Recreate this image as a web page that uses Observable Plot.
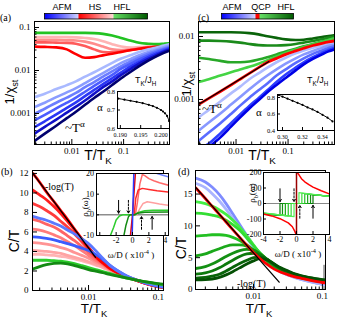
<!DOCTYPE html>
<html><head><meta charset="utf-8">
<script src="https://cdn.jsdelivr.net/npm/d3@7"></script>
<script src="https://cdn.jsdelivr.net/npm/@observablehq/plot@0.6"></script>
<style>
body{margin:0;background:#fff}
#fig{position:relative;width:337px;height:319px;overflow:hidden;background:#fff}
#fig svg{position:absolute;left:0;top:0;max-width:none}
</style></head><body><div id="fig"></div>
<script>
// ================= DATA =================
// ---- panel (a): 1/chi_st vs T/T_K ----
const aT = [0.0019,0.003,0.005,0.008,0.012,0.018,0.027,0.04,0.06,0.09,0.14,0.2,0.3,0.45,0.6,0.77];
const aAFM1 = [0.0024,0.00288,0.0037,0.00457,0.0056,0.0072,0.0091,0.0117,0.0151,0.019,0.0229,0.0269,0.031,0.0347,0.038,0.0407];
const aAFM2 = [0.00141,0.00178,0.0024,0.0031,0.0039,0.0051,0.0067,0.0087,0.0115,0.0151,0.0188,0.0227,0.027,0.0313,0.0348,0.0377];
const aAFM3 = [0.00098,0.00129,0.00178,0.00234,0.003,0.0041,0.0054,0.0072,0.0095,0.0127,0.0164,0.0202,0.0246,0.0291,0.0327,0.0357];
const aAFM4 = [0.00069,0.00093,0.00132,0.00178,0.00234,0.0032,0.0044,0.0059,0.0079,0.011,0.0145,0.018,0.0224,0.0272,0.031,0.0339];
const aAFM5 = [0.00048,0.00066,0.00095,0.00135,0.00182,0.00254,0.00355,0.0048,0.0066,0.0091,0.0126,0.0158,0.0204,0.0251,0.0288,0.0324];
const aAFM6 = [0.00034,0.00049,0.00072,0.00105,0.00145,0.002,0.0029,0.0041,0.0056,0.0079,0.0111,0.0145,0.0186,0.0234,0.0275,0.0305];
const aAFM7 = [0.00023,0.00034,0.00052,0.00078,0.0011,0.0016,0.0023,0.0032,0.0046,0.0066,0.0095,0.0126,0.017,0.0219,0.0257,0.0288];
const aHS1 = [0.036,0.0355,0.0345,0.031,0.024,0.0198,0.0205,0.0225,0.0245,0.027,0.03,0.032,0.034,0.036,0.038,0.04];
const aHS2 = [0.045,0.045,0.0445,0.044,0.042,0.037,0.031,0.027,0.0265,0.028,0.03,0.032,0.034,0.036,0.038,0.04];
const aHS3 = [0.052,0.052,0.052,0.051,0.05,0.047,0.042,0.036,0.031,0.03,0.031,0.033,0.035,0.037,0.039,0.04];
const aHS4 = [0.06,0.06,0.06,0.06,0.059,0.057,0.054,0.048,0.041,0.036,0.034,0.035,0.036,0.038,0.039,0.041];
const aHFL = [0.075,0.075,0.075,0.075,0.075,0.075,0.074,0.071,0.065,0.057,0.049,0.044,0.042,0.041,0.042,0.043];
const aInsetJ = [0.1895,0.191,0.1925,0.194,0.1955,0.197,0.198,0.199,0.2,0.2005,0.201,0.2015,0.202];
const aInsetAlpha = [0.762,0.756,0.75,0.744,0.737,0.728,0.721,0.712,0.7,0.692,0.682,0.668,0.64];

// ---- panel (c): 1/chi_st vs T/T_K ----
const cT = [0.0019,0.003,0.005,0.008,0.012,0.018,0.027,0.04,0.06,0.09,0.14,0.2,0.3,0.45,0.6,0.77];
const cHFL1 = [0.0117,0.0117,0.0117,0.0117,0.0116,0.0113,0.0108,0.0101,0.0095,0.009,0.0088,0.0089,0.0093,0.0098,0.0102,0.0105];
const cHFL2 = [0.0086,0.0086,0.0085,0.0083,0.008,0.0076,0.0073,0.0072,0.0072,0.0073,0.0076,0.008,0.0085,0.0091,0.0096,0.01];
const cHFL3 = [0.0046,0.0044,0.0041,0.0039,0.0039,0.004,0.0043,0.0047,0.0052,0.0058,0.0064,0.007,0.0076,0.0083,0.0089,0.0094];
const cHFL4 = [0.0019,0.0021,0.0024,0.0027,0.003,0.0033,0.0037,0.0042,0.0048,0.0055,0.0062,0.0068,0.0075,0.0082,0.0088,0.0093];
const cQCP = [0.00083,0.00104,0.00134,0.0017,0.0021,0.0026,0.0032,0.0039,0.0045,0.0052,0.0059,0.0065,0.0072,0.0078,0.0082,0.0085];
const cAFM1 = [0.00052,0.00068,0.00093,0.00125,0.0016,0.0021,0.0026,0.0032,0.0039,0.0046,0.0054,0.006,0.0066,0.0072,0.0076,0.0079];
const cAFM2 = [0.00032,0.00043,0.0006,0.00083,0.0011,0.00145,0.0019,0.0024,0.003,0.0037,0.0045,0.0052,0.0059,0.0066,0.0071,0.0074];
const cAFM3 = [0.00022,0.0003,0.00042,0.00059,0.0008,0.00107,0.0014,0.0018,0.0024,0.003,0.0038,0.0045,0.0053,0.006,0.0066,0.007];
const cAFM4 = [0.00016,0.0002,0.00029,0.00042,0.00058,0.00079,0.00105,0.0014,0.0019,0.0025,0.0032,0.0039,0.0047,0.0055,0.0061,0.0066];
const cAFM5 = [0.0001,0.00017,0.00025,0.00037,0.00052,0.00072,0.00097,0.0013,0.0017,0.0022,0.0029,0.0036,0.0044,0.0052,0.0058,0.0062];
const cFitT = [0.0019,0.043];
const cFitY = [0.00083,0.004];
const cInsetJ = [0.296,0.3,0.305,0.31,0.315,0.32,0.325,0.33,0.335,0.34,0.345,0.35];
const cInsetAlpha = [0.83,0.81,0.785,0.76,0.735,0.71,0.68,0.655,0.625,0.59,0.555,0.51];

// ---- panel (b): C/T vs T/T_K ----
const bT = [0.0016,0.002,0.0025,0.0032,0.004,0.005,0.0063,0.008,0.01,0.0126,0.016,0.02,0.025,0.032,0.04,0.05,0.063,0.08,0.1,0.118];
const bHS1 = [12,11.1,10.1,9.1,8.2,7.3,6.3,5.3,4.4,3.5,2.85,2.3,1.9,1.55,1.25,1.0,0.75,0.55,0.38,0.3];
const bHS2 = [10.3,9.8,9.3,8.6,7.9,7.1,6.2,5.3,4.4,3.5,2.85,2.3,1.9,1.55,1.25,1.0,0.76,0.56,0.39,0.31];
const bHS3 = [8.9,8.6,8.2,7.7,7.1,6.5,5.8,5.0,4.2,3.45,2.8,2.3,1.9,1.55,1.26,1.01,0.77,0.57,0.4,0.32];
const bHS4 = [7.3,7.1,6.8,6.5,6.1,5.6,5.1,4.5,3.9,3.3,2.75,2.25,1.88,1.55,1.27,1.02,0.79,0.59,0.42,0.34];
const bHS5 = [6.3,6.2,6.0,5.7,5.4,5.0,4.6,4.1,3.6,3.1,2.65,2.2,1.85,1.54,1.27,1.03,0.8,0.6,0.44,0.36];
const bHS6 = [4.9,4.85,4.75,4.6,4.4,4.2,3.9,3.6,3.3,2.9,2.55,2.15,1.82,1.53,1.27,1.04,0.82,0.62,0.46,0.38];
const bHS7 = [4.1,4.05,4.0,3.9,3.8,3.6,3.4,3.2,2.95,2.7,2.4,2.1,1.8,1.52,1.27,1.05,0.84,0.64,0.48,0.4];
const bHS8 = [3.7,3.7,3.65,3.6,3.5,3.4,3.25,3.05,2.85,2.6,2.35,2.05,1.78,1.51,1.27,1.06,0.85,0.66,0.5,0.42];
const bAFM1 = [7.6,7.4,7.2,6.9,6.6,6.2,5.8,5.3,4.8,4.1,3.3,2.6,2.1,1.65,1.3,1.05,0.8,0.6,0.42,0.35];
const bAFM2 = [5.5,5.45,5.35,5.2,5.0,4.8,4.6,4.35,4.1,3.7,3.2,2.6,2.1,1.65,1.3,1.05,0.8,0.6,0.42,0.35];
const bHFL1 = [3.1,3.1,3.1,3.05,3.0,2.9,2.75,2.55,2.35,2.15,1.95,1.75,1.55,1.35,1.2,1.05,0.9,0.78,0.66,0.6];
const bHFL2 = [2.2,2.45,2.65,2.78,2.8,2.72,2.55,2.35,2.15,1.98,1.82,1.65,1.5,1.35,1.2,1.05,0.92,0.8,0.7,0.65];
const bLogT = [0.0016,0.0126];
const bLogY = [12,3.4];
// inset (b): rho_b(omega)
const bIw_blue = [-0.04,0.16];           const bIr_blue = [-10,20];
const bIw_blue2 = [3.0,3.6,4.4];         const bIr_blue2 = [20,19.3,18.4];
const bIw_red1 = [-0.25,0,0.35];         const bIr_red1 = [-10,0,20];
const bIw_red2 = [0.2,0.4,0.7,1.2,2,3,4.4];          const bIr_red2 = [0,8,12,12.8,12.3,11.6,11];
const bIw_pink1 = [0.35,0.6,0.9,1.2,1.5,2.0,2.6,3.3,4.4]; const bIr_pink1 = [0,6,15,19.5,19,17.5,16.5,15.5,14.3];
const bIw_pink2 = [0.5,0.9,1.3,1.8,2.5,3.3,4.4];      const bIr_pink2 = [0,3,5.5,6.3,5.8,5.2,4.6];
const bIw_g1 = [-2.7,-2.3,-2.0,-1.6,-1.2,0.3,0.8,1.5,2.5,4.4]; const bIr_g1 = [-10,-6,-2.5,-0.6,0,0,1.3,2.0,2.2,2.2];
const bIw_g2 = [-1.05,-0.8,-0.5,-0.3,0.2,0.6,1.5,4.4]; const bIr_g2 = [-10,-5,-1,0,0,0.8,1.3,1.4];
const bArrowW = [-1.7,-0.5,1.1,2.4];
const bArrowFrom = [7,7,-7,-7];
const bArrowTo = [0.8,0.8,-0.8,-0.8];
const bArrowDashed = [false,true,true,false];

// ---- panel (d): C/T vs T/T_K ----
const dT = [0.00144,0.002,0.0025,0.0032,0.004,0.005,0.0063,0.008,0.01,0.0126,0.016,0.02,0.025,0.032,0.04,0.05,0.063,0.08,0.1,0.111];
const dAFM1 = [17.5,16.9,16.1,14.9,13.5,11.9,10.2,8.5,6.9,5.5,4.3,3.4,2.8,2.3,1.9,1.6,1.3,1.05,0.82,0.76];
const dAFM2 = [16.7,16.0,15.1,13.9,12.6,11.2,9.7,8.1,6.6,5.3,4.2,3.35,2.75,2.25,1.87,1.57,1.28,1.03,0.8,0.74];
const dQCP = [16.0,14.3,13.1,11.8,10.6,9.4,8.2,6.95,5.8,4.8,3.9,3.2,2.7,2.3,2.0,1.75,1.5,1.28,1.1,1.05];
const dHFL1 = [13.8,13.5,13.1,12.5,11.8,10.9,9.8,8.4,7.0,5.6,4.5,3.6,3.0,2.5,2.1,1.8,1.55,1.35,1.2,1.15];
const dHFL2 = [12.0,11.9,11.7,11.4,10.9,10.2,9.3,8.1,6.9,5.7,4.6,3.7,3.1,2.6,2.2,1.9,1.65,1.45,1.3,1.25];
const dHFL3 = [8.4,8.5,8.6,8.6,8.5,8.2,7.7,7.0,6.2,5.3,4.4,3.6,3.0,2.55,2.2,1.9,1.65,1.45,1.3,1.25];
const dHFL4 = [5.3,5.6,6.0,6.4,6.8,7.0,7.0,6.8,6.2,5.4,4.5,3.7,3.1,2.6,2.25,1.95,1.7,1.5,1.35,1.3];
const dHFL5 = [3.3,3.6,4.0,4.6,5.2,5.7,6.1,6.3,6.2,5.6,4.7,3.8,3.2,2.7,2.3,2.0,1.75,1.55,1.4,1.35];
const dHFL6 = [2.4,2.6,2.9,3.4,4.0,4.6,5.2,5.6,5.7,5.4,4.7,3.9,3.25,2.75,2.35,2.05,1.8,1.6,1.45,1.4];
const dHFL7 = [1.8,1.9,2.1,2.4,2.9,3.5,4.1,4.6,5.0,5.1,4.7,4.0,3.3,2.8,2.4,2.1,1.85,1.65,1.5,1.45];
const dHFL8 = [1.5,1.55,1.65,1.9,2.3,2.8,3.4,4.0,4.5,4.85,4.6,4.0,3.4,2.9,2.45,2.15,1.9,1.7,1.55,1.5];
const dLogT = [0.00146,0.0236];
const dLogY = [16,1.15];
const dMarkT = [0.106];
const dMarkY = [0,3.8];
// inset (d)
const dIw_redU = [0.05,0.15,0.3,0.6,1,1.5,2,3,4];       const dIr_redU = [200,195,185,160,140,122,106,82,62];
const dIw_redL = [-4,-3,-2,-1,-0.5,-0.2,-0.05];         const dIr_redL = [-68,-80,-98,-125,-150,-180,-200];
const dIw_redV = [0,0];                                  const dIr_redV = [-200,200];
const dIw_g1 = [-4,-0.3,-0.3,0.3,0.3,4];   const dIr_g1 = [-60,-85,0,0,70,45];
const dIw_g2 = [-4,-0.65,-0.65,0.65,0.65,4]; const dIr_g2 = [-62,-82,0,0,66,46];
const dIw_g3 = [-4,-1.0,-1.0,1.0,1.0,4];   const dIr_g3 = [-64,-80,0,0,63,46];
const dIw_g4 = [-4,-1.35,-1.35,1.35,1.35,4]; const dIr_g4 = [-66,-78,0,0,60,47];
const dIw_g5 = [-4,-1.7,-1.7,1.7,1.7,4];   const dIr_g5 = [-68,-76,0,0,58,47];
const dIw_g6 = [-4,-2.0,-2.0,2.0,2.0,4];   const dIr_g6 = [-70,-75,0,0,56,48];
const dArrowW = [-2,-0.3,0.4,2.0];
const dArrowFrom = [95,95,-95,-95];
const dArrowTo = [12,12,-12,-12];
const dArrowDashed = [false,true,true,false];

// ---- tick values ----
const tLogX_major = [0.01,0.1];
const tLogX_minorA = [0.002,0.003,0.004,0.005,0.006,0.007,0.008,0.009,0.02,0.03,0.04,0.05,0.06,0.07,0.08,0.09,0.2,0.3,0.4,0.5,0.6,0.7];
const tLogX_minorB = [0.002,0.003,0.004,0.005,0.006,0.007,0.008,0.009,0.02,0.03,0.04,0.05,0.06,0.07,0.08,0.09];
const tLabelsXA = [0.002,0.01,0.1,0.5];
const tLabelsXB = [0.002,0.01,0.1];
const tYaMajor = [0.001,0.01,0.1];
const tYaMinor = [0.0002,0.0003,0.0004,0.0005,0.0006,0.0007,0.0008,0.0009,0.002,0.003,0.004,0.005,0.006,0.007,0.008,0.009,0.02,0.03,0.04,0.05,0.06,0.07,0.08,0.09];
const tYcMajor = [0.001,0.01];
const tYcMinor = [0.0002,0.0003,0.0004,0.0005,0.0006,0.0007,0.0008,0.0009,0.002,0.003,0.004,0.005,0.006,0.007,0.008,0.009];
const tYb = [0,2,4,6,8,10,12];
const tYd = [0,5,10,15];
const tInsetAX = [0.190,0.195,0.200];
const tInsetAXlab = ["0.190","0.195","0.200"];
const tInsetAY = [0.6,0.7,0.8];
const tInsetCX = [0.30,0.32,0.34];
const tInsetCXlab = ["0.30","0.32","0.34"];
const tInsetCY = [0.4,0.6,0.8];
const tInsetBX = [-4,-2,0,2,4];
const tInsetBXlab = [-2,0,2,4];
const tInsetBY = [-10,0,10,20];
const tInsetDX = [-4,-2,0,2,4];
const tInsetDY = [-200,-100,0,100,200];

// ================= DRAWING =================
const SERIF = "Liberation Serif, Times New Roman, serif";
const SANS = "Liberation Sans, Arial, Helvetica, sans-serif";
const fig = document.getElementById("fig");
const zip = (xs, ys) => xs.map((x, i) => ({x, y: ys[i]}));
const line = (xs, ys, stroke, w = 2.6, extra = {}) =>
  Plot.line(zip(xs, ys), {x: "x", y: "y", stroke, strokeWidth: w, curve: "monotone-x", clip: true, ...extra});

function frameOpts(L, R, T, B) {
  return {width: 337, height: 319, marginLeft: L, marginRight: 337 - R, marginTop: T, marginBottom: 319 - B,
    style: {background: "transparent", overflow: "visible"}};
}
function axesMarks(L, R, T, B, o) {
  const W = R - L, H = B - T;
  return [
    Plot.tickX(o.xMajor, {x: d => d, insetTop: H - (o.major ?? 5), strokeWidth: 1}),
    Plot.tickX(o.xMinor || [], {x: d => d, insetTop: H - (o.minor ?? 2.5), strokeWidth: 1}),
    Plot.tickY(o.yMajor, {y: d => d, insetRight: W - (o.major ?? 5), strokeWidth: 1}),
    Plot.tickY(o.yMinor || [], {y: d => d, insetRight: W - (o.minor ?? 2.5), strokeWidth: 1}),
    Plot.axisX(o.xLabels, {tickSize: 0, tickPadding: o.padX ?? 3, fontSize: o.fs ?? 9, fontFamily: SERIF,
      tickFormat: o.fmtX || (d => String(d)), label: null}),
    Plot.axisY(o.yLabels, {tickSize: 0, tickPadding: o.padY ?? 4, fontSize: o.fsY ?? o.fs ?? 9, fontFamily: SERIF,
      tickFormat: o.fmtY || (d => String(d)), label: null}),
    Plot.frame({strokeWidth: 1, stroke: "black"})
  ];
}
function add(svg) { fig.appendChild(svg); }

// ---- colour bars ----
add(Plot.plot({...frameOpts(44, 147, 13, 18.5),
  x: {domain: [0, 3], axis: null}, y: {domain: [0, 1], axis: null},
  color: {type: "linear", domain: [0, 1, 1.0001, 2, 2.0001, 3],
    range: ["#0000ff", "#d2d6ff", "#ff0000", "#ffd6d6", "#66e066", "#005a00"]},
  marks: [Plot.raster({fill: (x, y) => x, x1: 0, x2: 3, y1: 0, y2: 1}), Plot.frame({strokeWidth: 0.8})]}));
add(Plot.plot({...frameOpts(221, 293, 13, 18.5),
  x: {domain: [0, 72], axis: null}, y: {domain: [0, 1], axis: null},
  color: {type: "linear", domain: [0, 34, 34.01, 38, 38.01, 72],
    range: ["#0000ff", "#d2d6ff", "#ff0000", "#ff0000", "#66e066", "#005a00"]},
  marks: [Plot.raster({fill: (x, y) => x, x1: 0, x2: 72, y1: 0, y2: 1}), Plot.frame({strokeWidth: 0.8})]}));

// ---- panel (a) ----
{
  const [L, R, T, B] = [34, 169, 21, 144];
  const blues = ["#a9b9ff", "#8a9cff", "#6b7dff", "#4b5cff", "#2a36f5", "#1010c8", "#00006e"];
  const afm = [aAFM1, aAFM2, aAFM3, aAFM4, aAFM5, aAFM6, aAFM7];
  const reds = ["#ff0000", "#ff5a5a", "#ff8c8c", "#ffb4b4"];
  const hs = [aHS1, aHS2, aHS3, aHS4];
  add(Plot.plot({...frameOpts(L, R, T, B),
    x: {type: "log", domain: [0.0019, 0.77], axis: null},
    y: {type: "log", domain: [1.9e-4, 0.138], axis: null},
    marks: [
      ...hs.map((s, i) => line(aT, s, reds[i])).reverse(),
      line(aT, aHFL, "#22c322"),
      ...afm.map((s, i) => line(aT, s, blues[i])),
      ...axesMarks(L, R, T, B, {xMajor: tLogX_major, xMinor: tLogX_minorA, xLabels: tLabelsXA,
        yMajor: tYaMajor, yMinor: tYaMinor, yLabels: tYaMajor})
    ]}));
  const [l, r, t, b] = [117, 169, 91, 128];
  add(Plot.plot({...frameOpts(l, r, t, b),
    x: {domain: [0.1893, 0.2021], axis: null}, y: {domain: [0.6, 0.8], axis: null},
    marks: [
      Plot.frame({fill: "white", stroke: null}),
      Plot.line(zip(aInsetJ, aInsetAlpha), {x: "x", y: "y", stroke: "black", strokeWidth: 1, curve: "monotone-x"}),
      Plot.dot(zip(aInsetJ, aInsetAlpha), {x: "x", y: "y", r: 1.1, fill: "black"}),
      ...axesMarks(l, r, t, b, {xMajor: tInsetAX, yMajor: tInsetAY, xLabels: tInsetAX, yLabels: tInsetAY,
        fs: 6, fsY: 6.5, major: 3, padX: 4, padY: 2.5, fmtX: (d, i) => tInsetAXlab[i]})
    ]}));
}

// ---- panel (c) ----
{
  const [L, R, T, B] = [198, 334, 21, 144];
  const greens = ["#0a640a", "#1a8a1a", "#28a828", "#44d444"];
  const blues = ["#b0bcff", "#8898ff", "#5a6cff", "#2c3cff", "#0000e6"];
  add(Plot.plot({...frameOpts(L, R, T, B),
    x: {type: "log", domain: [0.0019, 0.78], axis: null},
    y: {type: "log", domain: [1.93e-4, 0.0173], axis: null},
    marks: [
      ...[cHFL1, cHFL2, cHFL3, cHFL4].map((s, i) => line(cT, s, greens[i])),
      ...[cAFM1, cAFM2, cAFM3, cAFM4, cAFM5].map((s, i) => line(cT, s, blues[i])),
      line(cT, cQCP, "#ff0000", 2.8),
      Plot.line(zip(cFitT, cFitY), {x: "x", y: "y", stroke: "black", strokeWidth: 1.2, clip: true}),
      ...axesMarks(L, R, T, B, {xMajor: tLogX_major, xMinor: tLogX_minorA, xLabels: tLabelsXA,
        yMajor: tYcMajor, yMinor: tYcMinor, yLabels: tYcMajor})
    ]}));
  const [l, r, t, b] = [277, 334, 94, 130];
  add(Plot.plot({...frameOpts(l, r, t, b),
    x: {domain: [0.295, 0.352], axis: null}, y: {domain: [0.4, 0.836], axis: null},
    marks: [
      Plot.frame({fill: "white", stroke: null}),
      Plot.line(zip(cInsetJ, cInsetAlpha), {x: "x", y: "y", stroke: "black", strokeWidth: 1, curve: "monotone-x"}),
      Plot.dot(zip(cInsetJ, cInsetAlpha), {x: "x", y: "y", r: 1.1, fill: "black"}),
      ...axesMarks(l, r, t, b, {xMajor: tInsetCX, yMajor: tInsetCY, xLabels: tInsetCX, yLabels: tInsetCY,
        fs: 6, fsY: 6.5, major: 3, padX: 4, padY: 2.5, fmtX: (d, i) => tInsetCXlab[i]})
    ]}));
}

// ---- panel (b) ----
{
  const [L, R, T, B] = [32, 163, 170, 290];
  const reds = ["#ff0000", "#ff1e1e", "#ff3c3c", "#ff6464", "#ff7c7c", "#ff9494", "#ffa4a4", "#ffb4b4"];
  const hs = [bHS1, bHS2, bHS3, bHS4, bHS5, bHS6, bHS7, bHS8];
  add(Plot.plot({...frameOpts(L, R, T, B),
    x: {type: "log", domain: [0.00158, 0.118], axis: null},
    y: {domain: [0, 12.3], axis: null},
    marks: [
      ...hs.map((s, i) => line(bT, s, reds[i], 2.8)).reverse(),
      line(bT, bAFM2, "#3a5cff", 2.8),
      line(bT, bAFM1, "#5a78ff", 2.8),
      line(bT, bHFL1, "#2ccc2c", 2.8),
      line(bT, bHFL2, "#138a13", 2.8),
      Plot.line(zip(bLogT, bLogY), {x: "x", y: "y", stroke: "black", strokeWidth: 1.3, clip: true}),
      ...axesMarks(L, R, T, B, {xMajor: tLogX_major, xMinor: tLogX_minorB, xLabels: tLabelsXB,
        yMajor: tYb, yLabels: tYb})
    ]}));
  const [l, r, t, b] = [96, 168, 173, 235];
  const arrows = bArrowW.map((w, i) => ({w, y1: bArrowFrom[i], y2: bArrowTo[i], dashed: bArrowDashed[i]}));
  const ia = (xs, ys, c, w = 1.5) => Plot.line(zip(xs, ys), {x: "x", y: "y", stroke: c, strokeWidth: w, clip: true});
  add(Plot.plot({...frameOpts(l, r, t, b),
    x: {domain: [-4.4, 4.4], axis: null}, y: {domain: [-10, 20], axis: null},
    marks: [
      Plot.frame({fill: "white", stroke: null}),
      Plot.ruleY([0], {stroke: "#555", strokeWidth: 1}),
      ia(bIw_pink2, bIr_pink2, "#ffa0a0"),
      ia(bIw_pink1, bIr_pink1, "#ff6a6a"),
      ia(bIw_red2, bIr_red2, "#ff2a2a"),
      ia(bIw_g1, bIr_g1, "#2ccc2c"),
      ia(bIw_g2, bIr_g2, "#138a13"),
      ia(bIw_blue2, bIr_blue2, "#6a80ff"),
      ia(bIw_red1, bIr_red1, "#ee0000"),
      ia(bIw_blue, bIr_blue, "#2a3cff"),
      Plot.arrow(arrows.filter(d => !d.dashed), {x1: "w", x2: "w", y1: "y1", y2: "y2", bend: 0, headLength: 4, strokeWidth: 1, stroke: "black"}),
      Plot.arrow(arrows.filter(d => d.dashed), {x1: "w", x2: "w", y1: "y1", y2: "y2", bend: 0, headLength: 4, strokeWidth: 1, stroke: "black", strokeDasharray: "2,1.5"}),
      ...axesMarks(l, r, t, b, {xMajor: tInsetBX, yMajor: tInsetBY, xLabels: tInsetBXlab, yLabels: tInsetBY,
        fs: 8, major: 3, padX: 1.5, padY: 2.5})
    ]}));
}

// ---- panel (d) ----
{
  const [L, R, T, B] = [195, 325, 170, 289];
  const greens = ["#44ee44", "#33dd33", "#22c022", "#1aa81a", "#139013", "#0d7a0d", "#086408", "#045004"];
  const hfl = [dHFL1, dHFL2, dHFL3, dHFL4, dHFL5, dHFL6, dHFL7, dHFL8];
  add(Plot.plot({...frameOpts(L, R, T, B),
    x: {type: "log", domain: [0.00144, 0.111], axis: null},
    y: {domain: [0, 18.7], axis: null},
    marks: [
      Plot.ruleX(dMarkT, {y1: dMarkY[0], y2: dMarkY[1], stroke: "#a0a0a0", strokeWidth: 2}),
      line(dT, dAFM1, "#7f8cff", 2.8),
      line(dT, dAFM2, "#aab4ff", 2.8),
      ...hfl.map((s, i) => line(dT, s, greens[i], 2.8)),
      line(dT, dQCP, "#ff0000", 2.8),
      Plot.line(zip(dLogT, dLogY), {x: "x", y: "y", stroke: "black", strokeWidth: 1.3, clip: true}),
      ...axesMarks(L, R, T, B, {xMajor: tLogX_major, xMinor: tLogX_minorB, xLabels: tLabelsXB,
        yMajor: tYd, yLabels: tYd, padY: 3})
    ]}));
  const [l, r, t, b] = [263, 329, 172, 234];
  const arrows = dArrowW.map((w, i) => ({w, y1: dArrowFrom[i], y2: dArrowTo[i], dashed: dArrowDashed[i]}));
  const ia = (xs, ys, c, w = 1.5) => Plot.line(zip(xs, ys), {x: "x", y: "y", stroke: c, strokeWidth: w, clip: true});
  const gcol = ["#55ee55", "#3ad83a", "#26c026", "#1aa81a", "#119011", "#087808"];
  const gx = [dIw_g1, dIw_g2, dIw_g3, dIw_g4, dIw_g5, dIw_g6];
  const gy = [dIr_g1, dIr_g2, dIr_g3, dIr_g4, dIr_g5, dIr_g6];
  add(Plot.plot({...frameOpts(l, r, t, b),
    x: {domain: [-4, 4], axis: null}, y: {domain: [-200, 200], axis: null},
    marks: [
      Plot.frame({fill: "white", stroke: null}),
      Plot.ruleY([0], {stroke: "#888", strokeWidth: 1.2}),
      ...gx.map((xs, i) => ia(xs, gy[i], gcol[i], 1.2)).reverse(),
      ia(dIw_redU, dIr_redU, "#ff0000", 1.5),
      ia(dIw_redL, dIr_redL, "#ff0000", 1.5),
      ia(dIw_redV, dIr_redV, "#9a0000", 1.5),
      Plot.arrow(arrows.filter(d => !d.dashed), {x1: "w", x2: "w", y1: "y1", y2: "y2", bend: 0, headLength: 4, strokeWidth: 1, stroke: "black"}),
      Plot.arrow(arrows.filter(d => d.dashed), {x1: "w", x2: "w", y1: "y1", y2: "y2", bend: 0, headLength: 4, strokeWidth: 1, stroke: "black", strokeDasharray: "2,1.5"}),
      ...axesMarks(l, r, t, b, {xMajor: tInsetDX, yMajor: tInsetDY, xLabels: tInsetDX, yLabels: tInsetDY,
        fs: 8, major: 3, padX: 1.5, padY: 2})
    ]}));
}

// ---- text annotations ----
const ann = d3.create("svg").attr("width", 337).attr("height", 319).attr("viewBox", "0 0 337 319");
function txt(x, y, parts, o = {}) {
  const size = o.size || 9;
  const t = ann.append("text").attr("x", x).attr("y", y).attr("font-size", size)
    .attr("font-family", o.family || SERIF).attr("text-anchor", o.anchor || "start").attr("fill", "black");
  if (o.rotate) t.attr("transform", `rotate(${o.rotate},${x},${y})`);
  if (typeof parts === "string") parts = [[parts]];
  let shift = 0;
  for (const [s, k] of parts) {
    const target = k === "sub" ? size * 0.32 : k === "sup" ? -size * 0.42 : 0;
    t.append("tspan").attr("dy", target - shift).attr("font-size", k ? size * 0.7 : size).text(s);
    shift = target;
  }
}
// panel letters
txt(0, 21, "(a)", {size: 10});
txt(198, 21, "(c)", {size: 10});
txt(1, 175, "(b)", {size: 10});
txt(178, 175, "(d)", {size: 10});
// colour bar labels
txt(62, 9.5, "AFM", {size: 9, family: SANS, anchor: "middle"});
txt(95, 9.5, "HS", {size: 9, family: SANS, anchor: "middle"});
txt(122, 9.5, "HFL", {size: 9, family: SANS, anchor: "middle"});
txt(232, 9.5, "AFM", {size: 9, family: SANS, anchor: "middle"});
txt(261, 9.5, "QCP", {size: 9, family: SANS, anchor: "middle"});
txt(286, 9.5, "HFL", {size: 9, family: SANS, anchor: "middle"});
// axis titles
const TTK = [["T/T"], ["K", "sub"]];
txt(98, 160, TTK, {size: 14, family: SANS, anchor: "middle"});
txt(262, 160, TTK, {size: 14, family: SANS, anchor: "middle"});
txt(94, 312.5, TTK, {size: 13.5, family: SANS, anchor: "middle"});
txt(259, 312.5, TTK, {size: 13.5, family: SANS, anchor: "middle"});
const CHI = [["1/χ"], ["st", "sub"]];
txt(14, 92, CHI, {size: 13, family: SANS, anchor: "middle", rotate: -90});
txt(191, 84, CHI, {size: 13, family: SANS, anchor: "middle", rotate: -90});
txt(18.5, 241, "C/T", {size: 14, family: SANS, anchor: "middle", rotate: -90});
txt(185.5, 248, "C/T", {size: 14, family: SANS, anchor: "middle", rotate: -90});
// inset labels
const TKJH = [["T"], ["K", "sub"], ["/J"], ["H", "sub"]];
txt(135, 83, TKJH, {size: 9, family: SANS});
txt(307, 83, TKJH, {size: 9, family: SANS});
txt(100, 111, "α", {size: 11, anchor: "middle"});
txt(259, 116, "α", {size: 11, anchor: "middle"});
const TALPHA = [["~T"], ["α", "sup"]];
txt(65, 132, TALPHA, {size: 13});
txt(202, 113, TALPHA, {size: 13});
txt(45, 190, "-log(T)", {size: 10});
txt(237, 287, "-log(T)", {size: 10});
const RHO = [["ρ"], ["b", "sub"], ["(ω)"]];
txt(88, 207, RHO, {size: 9, anchor: "middle", rotate: -90});
txt(255, 193, RHO, {size: 9, anchor: "middle", rotate: -90});
const OMD = [["ω/D ( x10"], ["-4", "sup"], [" )"]];
txt(131, 258, OMD, {size: 9, anchor: "middle"});
txt(298, 257, OMD, {size: 9, anchor: "middle"});
fig.appendChild(ann.node());
</script></body></html>
